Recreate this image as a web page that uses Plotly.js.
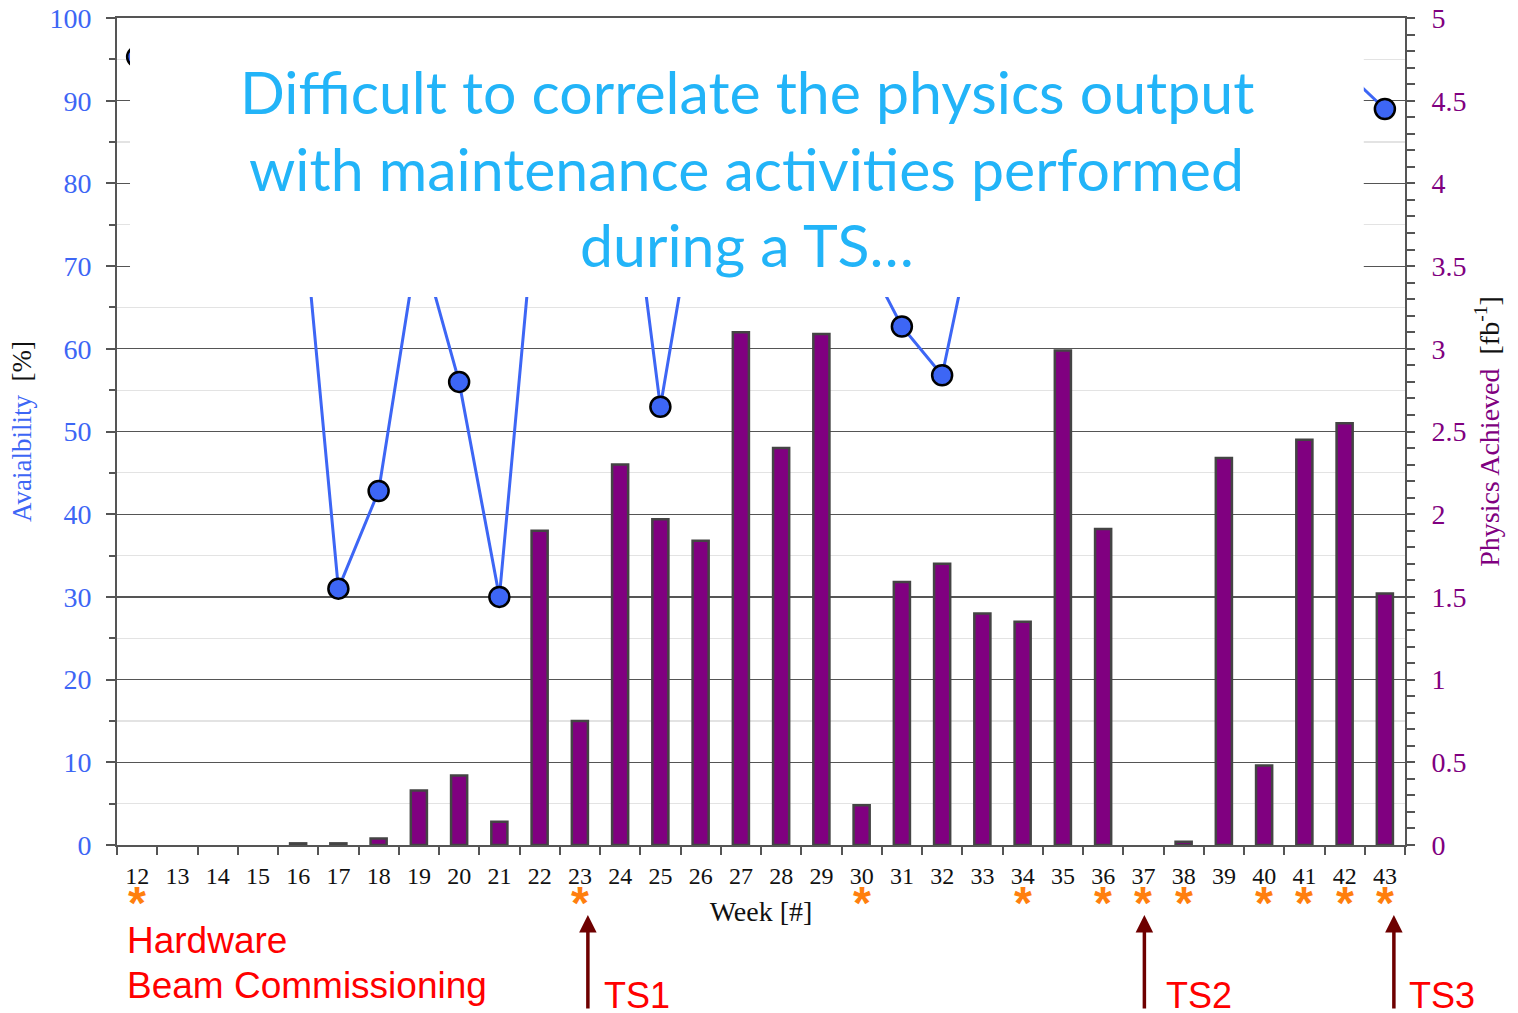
<!DOCTYPE html>
<html>
<head>
<meta charset="utf-8">
<script src="https://cdn.plot.ly/plotly-3.0.1.min.js"></script>
<style>html,body{margin:0;padding:0;background:#fff;}#chart{width:1518px;height:1013px;}</style>
</head>
<body>
<div id="chart"></div>
<script>
// ---- data ----
var weeks = [12,13,14,15,16,17,18,19,20,21,22,23,24,25,26,27,28,29,30,31,32,33,34,35,36,37,38,39,40,41,42,43];
var physicsAchieved = [0,0,0,0,0.01,0.01,0.04,0.33,0.42,0.14,1.90,0.75,2.30,1.97,1.84,3.10,2.40,3.09,0.24,1.59,1.70,1.40,1.35,2.99,1.91,0,0.02,2.34,0.48,2.45,2.55,1.52];
var availability = [95.3,90,88,92,83.2,31.0,42.8,73.5,56.0,30.0,83.2,88,91.1,53.0,81.7,92,86,90,72.1,62.7,56.8,80,85,92,80,88,76,90,82,91,93.6,89.0];
var starWeeks = [12,23,30,34,36,37,38,40,41,42,43];
var tsWeeks = [23,37,43];
var tsLabels = ['TS1','TS2','TS3'];
var phaseLabels = ['Hardware','Beam Commissioning'];
var boxLines = ['Difficult to correlate the physics output','with maintenance activities performed','during a TS\u2026'];

// ---- style ----
var BLUE = '#3d66f5', PURPLE = '#800080', AXIS = '#555555';
var serif = 'Liberation Serif, Times New Roman, serif';
var sans = 'Liberation Sans, Arial, sans-serif';

var barLineWidths = physicsAchieved.map(function (v) { return v > 0 ? 2.5 : 0; });

var traces = [
  {
    type: 'bar', x: weeks, y: physicsAchieved, yaxis: 'y2', width: 0.4,
    marker: {color: PURPLE, line: {color: '#444444', width: barLineWidths}},
    hoverinfo: 'x+y', showlegend: false
  },
  {
    type: 'scatter', mode: 'lines+markers', x: weeks, y: availability, yaxis: 'y',
    line: {color: BLUE, width: 3},
    marker: {size: 20, color: BLUE, line: {color: '#000000', width: 2.5}},
    showlegend: false, cliponaxis: true
  }
];

var annotations = [];
// text box lines
var lineY = [0.911, 0.818, 0.726];
boxLines.forEach(function (t, i) {
  annotations.push({
    xref: 'paper', yref: 'paper', x: 0.489, y: lineY[i], xanchor: 'center', yanchor: 'middle',
    text: t, showarrow: false, font: {family: 'Lato, Noto Sans, sans-serif', size: 59, color: '#22b4f8'}
  });
});
// asterisks
starWeeks.forEach(function (w) {
  annotations.push({
    xref: 'x', yref: 'paper', x: w, y: -0.07, xanchor: 'center', yanchor: 'middle',
    text: '<b>*</b>', showarrow: false, font: {family: sans, size: 46, color: '#ff7f0e'}
  });
});
// phase labels
var phaseY = [-0.1149, -0.1693];
phaseLabels.forEach(function (t, i) {
  annotations.push({
    xref: 'paper', yref: 'paper', x: 0.0062, y: phaseY[i], xanchor: 'left', yanchor: 'middle',
    text: t, showarrow: false, font: {family: sans, size: 37, color: '#ff0000'}
  });
});
// TS arrows and labels
var arrowShift = [8, 1, 9];
var labelShift = [14, 20, 13];
tsWeeks.forEach(function (w, i) {
  annotations.push({
    xref: 'x', yref: 'paper', x: w, y: -0.0846, xshift: arrowShift[i],
    text: '', showarrow: true, axref: 'pixel', ayref: 'pixel', ax: 0, ay: 95,
    arrowhead: 2, arrowsize: 1, arrowwidth: 3.5, arrowcolor: '#6e0000'
  });
  annotations.push({
    xref: 'x', yref: 'paper', x: w, y: -0.1815, xshift: arrowShift[i] + labelShift[i],
    xanchor: 'left', yanchor: 'middle',
    text: tsLabels[i], showarrow: false, font: {family: sans, size: 36, color: '#ff0000'}
  });
});

var layout = {
  width: 1518, height: 1013,
  margin: {l: 117, r: 113, t: 18, b: 168, pad: 0},
  paper_bgcolor: '#ffffff', plot_bgcolor: '#ffffff',
  showlegend: false,
  xaxis: {
    range: [11.5, 43.5], tickvals: weeks, ticktext: weeks.map(String),
    ticks: '', showgrid: false, zeroline: false,
    showline: true, linecolor: AXIS, linewidth: 2, mirror: true,
    tickfont: {family: serif, size: 24, color: '#111111'},
    ticklabelstandoff: 8,
    minor: {tick0: 11.5, dtick: 1, ticks: 'outside', ticklen: 8, tickcolor: AXIS, tickwidth: 2, showgrid: false},
    title: {text: 'Week [#]', font: {family: serif, size: 28, color: '#111111'}, standoff: 14}
  },
  yaxis: {
    range: [0, 100], dtick: 10, tick0: 0,
    ticks: 'outside', ticklen: 9, tickcolor: AXIS, tickwidth: 2,
    showline: true, linecolor: AXIS, linewidth: 2,
    showgrid: true, gridcolor: '#555555', gridwidth: 1.2, zeroline: false,
    tickfont: {family: serif, size: 28, color: BLUE},
    ticklabelstandoff: 9,
    minor: {dtick: 5, ticks: 'outside', ticklen: 6, tickcolor: AXIS, tickwidth: 2, showgrid: true, gridcolor: '#e3e3e3', gridwidth: 1.2},
    title: {text: '<span style="color:' + BLUE + '">Avaialbility</span>  [%]', font: {family: serif, size: 27, color: '#111111'}, standoff: 10}
  },
  yaxis2: {
    overlaying: 'y', side: 'right', range: [0, 5], dtick: 0.5, tick0: 0,
    ticks: 'outside', ticklen: 8, tickcolor: AXIS, tickwidth: 2,
    showline: true, linecolor: AXIS, linewidth: 2,
    showgrid: false, zeroline: false,
    tickfont: {family: serif, size: 28, color: PURPLE},
    ticklabelstandoff: 11,
    minor: {dtick: 0.1, ticks: 'outside', ticklen: 8, tickcolor: AXIS, tickwidth: 2, showgrid: false},
    title: {text: '<span style="color:' + PURPLE + '">Physics Achieved</span>  [fb<sup>-1</sup>]', font: {family: serif, size: 28, color: '#111111'}, standoff: 14}
  },
  shapes: [
    {type: 'rect', xref: 'paper', yref: 'paper', x0: 0.0101, x1: 0.968, y0: 0.6626, y1: 0.9976,
     fillcolor: '#ffffff', line: {width: 0}, layer: 'above'}
  ],
  annotations: annotations
};

Plotly.newPlot('chart', traces, layout, {displayModeBar: false, staticPlot: true});
</script>
</body>
</html>
